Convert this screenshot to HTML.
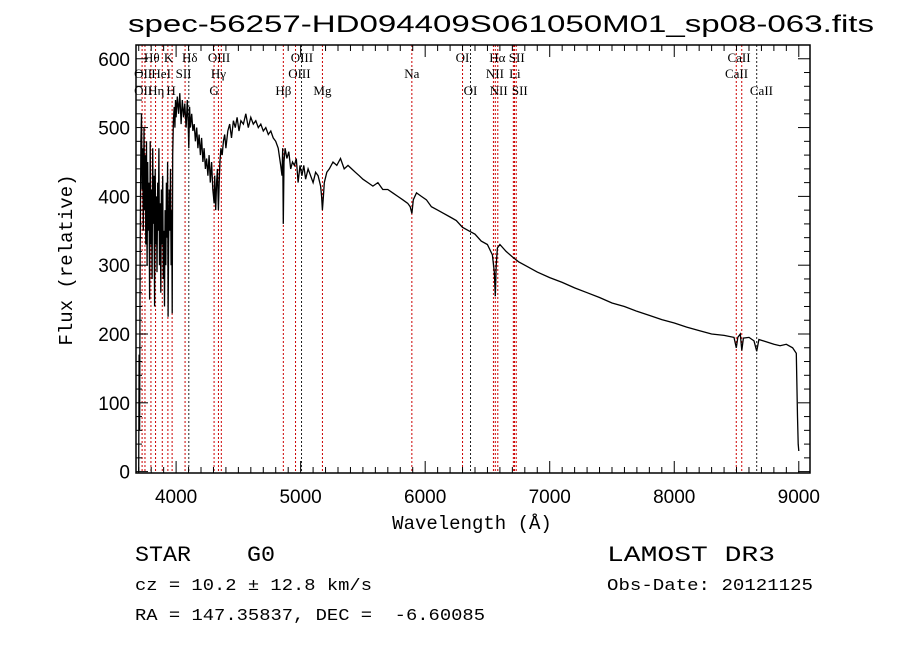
<!DOCTYPE html>
<html><head><meta charset="utf-8"><style>
html,body{margin:0;padding:0;background:#fff;}
svg text{font-family:"Liberation Serif",serif;fill:#000;white-space:pre;}
</style></head><body>
<svg id="chart" width="900" height="649" viewBox="0 0 900 649" xmlns="http://www.w3.org/2000/svg">
<rect x="0" y="0" width="900" height="649" fill="#fff"/>
<text x="501" y="32" text-anchor="middle" font-size="24" textLength="746" lengthAdjust="spacingAndGlyphs" style="font-family:'Liberation Sans',sans-serif">spec-56257-HD094409S061050M01_sp08-063.fits</text>
<g id="lines"></g>
<g id="labels"></g>
<g id="spec"></g>
<g id="axes"></g>
<text x="472" y="529" text-anchor="middle" font-size="19" style="font-family:'Liberation Mono',monospace">Wavelength (Å)</text>
<text transform="translate(72,260) rotate(-90)" text-anchor="middle" font-size="19" style="font-family:'Liberation Mono',monospace">Flux (relative)</text>
<text x="135" y="561" font-size="22" textLength="140" lengthAdjust="spacingAndGlyphs" style="font-family:'Liberation Mono',monospace">STAR    G0</text>
<text x="135" y="590" font-size="17" textLength="237" lengthAdjust="spacingAndGlyphs" style="font-family:'Liberation Mono',monospace">cz = 10.2 ± 12.8 km/s</text>
<text x="135" y="620" font-size="17" textLength="350" lengthAdjust="spacingAndGlyphs" style="font-family:'Liberation Mono',monospace">RA = 147.35837, DEC =  -6.60085</text>
<text x="607" y="561" font-size="22" textLength="168" lengthAdjust="spacingAndGlyphs" style="font-family:'Liberation Mono',monospace">LAMOST DR3</text>
<text x="607" y="590" font-size="17" textLength="206" lengthAdjust="spacingAndGlyphs" style="font-family:'Liberation Mono',monospace">Obs-Date: 20121125</text>
</svg>
<script>
const wave = [
3700,3703,3707,3712,3717,3722,3727,3732,3737,3742,
3747,3752,3757,3762,3767,3772,3777,3782,3787,3792,
3797,3802,3807,3812,3817,3822,3827,3832,3837,3842,
3847,3852,3857,3862,3867,3872,3877,3882,3887,3892,
3897,3902,3907,3912,3917,3922,3927,3932,3936,3940,
3945,3950,3955,3960,3965,3969,3973,3978,3985,3990,
3995,4000,4010,4020,4030,4040,4050,4060,4070,4080,
4090,4096,4102,4108,4115,4125,4135,4145,4155,4165,
4175,4185,4195,4205,4215,4225,4235,4245,4255,4265,
4275,4285,4295,4300,4305,4310,4318,4325,4332,4340,
4346,4352,4360,4370,4380,4390,4400,4415,4430,4445,
4460,4475,4490,4505,4520,4540,4560,4580,4600,4620,
4640,4660,4680,4700,4720,4740,4760,4780,4800,4820,
4840,4850,4856,4861,4866,4875,4890,4905,4920,4935,
4950,4965,4980,4995,5010,5025,5040,5060,5080,5100,
5120,5140,5160,5168,5175,5183,5190,5210,5230,5260,
5290,5320,5350,5380,5410,5440,5470,5500,5540,5580,
5620,5660,5700,5740,5780,5820,5860,5880,5893,5905,
5930,5970,6010,6050,6100,6150,6200,6250,6300,6350,
6400,6450,6500,6540,6555,6563,6570,6580,6600,6650,
6700,6750,6800,6900,7000,7100,7200,7300,7400,7500,
7600,7700,7800,7900,8000,8100,8200,8300,8400,8480,
8498,8510,8530,8542,8555,8600,8640,8662,8680,8750,
8800,8850,8900,8950,8980,8990,8995,9000];
const flux = [
0,170,60,330,480,520,410,470,350,500,
380,460,330,480,300,450,350,420,250,480,
330,410,280,470,360,430,240,440,330,400,
290,420,350,470,300,390,260,410,330,430,
280,350,240,380,300,420,340,450,225,330,
410,350,440,300,380,230,460,510,530,500,
540,515,545,520,550,505,540,515,535,500,
540,510,470,530,500,520,495,505,480,500,
470,490,460,485,450,470,440,455,430,460,
420,450,410,400,390,430,380,420,440,380,
420,450,470,460,480,490,470,495,505,485,
510,500,515,495,510,505,520,500,515,505,
510,500,505,495,500,490,495,485,480,470,
445,430,470,360,450,470,455,465,440,450,
445,455,420,445,430,445,425,440,430,420,
435,430,415,400,380,400,420,435,440,450,
445,455,440,445,440,435,430,425,420,415,
420,410,410,405,400,395,390,385,375,395,
405,400,395,385,380,375,370,365,355,350,
345,335,330,315,290,255,300,325,330,320,
312,305,300,290,282,275,267,260,253,245,
240,233,227,221,216,210,205,200,198,195,
180,195,200,176,194,195,190,175,192,188,
185,183,185,180,172,80,40,30];
const lineWave = [3727,3750,3798,3835,3889,3934,3968,4072,4102,4305,4340,4363,4861,4959,5007,5175,5893,6300,6364,6548,6563,6583,6708,6717,6731,8498,8542,8662];
const lineColor = ['#c00','#c00','#c00','#c00','#c00','#c00','#c00','#c00','#222','#c00','#c00','#c00','#c00','#c00','#222','#c00','#c00','#c00','#222','#c00','#c00','#c00','#c00','#c00','#c00','#c00','#c00','#222'];
const labelText = ['OII','OII','Hθ','Hη','HeI','K','H','SII','Hδ','G','Hγ','OIII','Hβ','OIII','OIII','Mg','Na','OI','OI','NII','Hα','NII','Li','SII','SII','CaII','CaII','CaII'];
const labelWave = [3735,3735,3805,3840,3880,3940,3960,4060,4110,4305,4340,4345,4861,4990,5010,5175,5893,6300,6364,6560,6580,6590,6720,6735,6760,8520,8500,8700];
const labelRow = [2,3,1,3,2,1,3,2,1,3,2,1,3,2,1,3,2,1,3,2,1,3,2,1,3,1,2,3];
const xTicks = [4000,5000,6000,7000,8000,9000];
const yTicks = [0,100,200,300,400,500,600];

const NS='http://www.w3.org/2000/svg';
const L=136,R=810,T=45,B=473;
const X0=3678,X1=9090,Y0=-2,Y1=620;
function sx(w){return L+(w-X0)/(X1-X0)*(R-L);}
function sy(f){return B-(f-Y0)/(Y1-Y0)*(B-T);}
function mk(tag,attrs,parent){const e=document.createElementNS(NS,tag);for(const k in attrs)e.setAttribute(k,attrs[k]);parent.appendChild(e);return e;}

const gl=document.getElementById('lines');
lineWave.forEach((w,i)=>{
  const e=mk('line',{x1:sx(w),x2:sx(w),y1:T,y2:B,stroke:lineColor[i],'stroke-width':1,'stroke-dasharray':'2,2'},gl);
  
  
});
const glab=document.getElementById('labels');
const rowY=[0,62,78,95];
labelText.forEach((t,i)=>{
  const e=mk('text',{x:sx(labelWave[i]),y:rowY[labelRow[i]],'text-anchor':'middle','font-size':13},glab);
  e.textContent=t;
  
  
});
const gs=document.getElementById('spec');
let d='';
const n=Math.min(wave.length,flux.length);
for(let i=0;i<n;i++){d+=(i?'L':'M')+sx(wave[i]).toFixed(1)+' '+sy(flux[i]).toFixed(1);}
const p=mk('path',{d:d,fill:'none',stroke:'#000','stroke-width':1.3},gs);



const ga=document.getElementById('axes');
const fr=mk('rect',{x:L,y:T,width:R-L,height:B-T,fill:'none',stroke:'#000','stroke-width':1.5},ga);


for(let w=3700;w<=9000;w+=100){
  const major=w%1000===0;const len=major?12:6;
  mk('line',{x1:sx(w),x2:sx(w),y1:B,y2:B-len,stroke:'#000'},ga);
  mk('line',{x1:sx(w),x2:sx(w),y1:T,y2:T+len,stroke:'#000'},ga);
}
for(let f=0;f<=620;f+=20){
  const major=f%100===0;const len=major?12:6;
  mk('line',{x1:L,x2:L+len,y1:sy(f),y2:sy(f),stroke:'#000'},ga);
  mk('line',{x1:R,x2:R-len,y1:sy(f),y2:sy(f),stroke:'#000'},ga);
}
xTicks.forEach(v=>{
  const e=mk('text',{x:sx(v),y:B+30,'text-anchor':'middle','font-size':19,style:"font-family:'Liberation Sans',sans-serif"},ga);
  e.textContent=v;
  
  
});
yTicks.forEach(v=>{
  const e=mk('text',{x:L-6,y:sy(v)+7,'text-anchor':'end','font-size':19,style:"font-family:'Liberation Sans',sans-serif"},ga);
  e.textContent=v;
  
  
});
</script>
</body></html>
